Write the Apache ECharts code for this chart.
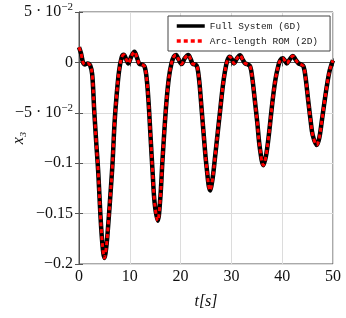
<!DOCTYPE html>
<html>
<head>
<meta charset="utf-8">
<script src="https://cdn.jsdelivr.net/npm/echarts@6/dist/echarts.min.js"></script>
<style>
  html, body { margin: 0; padding: 0; background: #fff; }
  #chart { width: 346px; height: 318px; }
</style>
</head>
<body>
<div id="chart"></div>
<script>
// time samples [s] and x3 values
var tData = [0, 0.4, 0.8, 1.2, 1.7, 2.2, 2.6, 3.0, 3.4, 3.8, 4.2, 4.6, 5.0, 5.4, 5.8, 6.2, 6.6, 7.0, 7.4, 7.9,
  8.4, 8.8, 9.3, 9.7, 10.3, 10.9, 11.4, 11.9, 12.4, 12.9, 13.3, 13.7, 14.1, 14.5, 14.9, 15.5, 16.0, 16.4, 16.8, 17.2,
  17.7, 18.2, 18.7, 19.1, 19.6, 20.2, 20.8, 21.5, 22.0, 22.4, 22.9, 23.3, 23.7, 24.1, 24.6, 25.1, 25.8, 26.3, 26.8, 27.3,
  27.8, 28.3, 28.7, 29.2, 29.7, 30.1, 30.5, 31.1, 31.7, 32.2, 32.7, 33.2, 33.7, 34.1, 34.6, 35.1, 35.6, 36.3, 36.8, 37.3,
  37.8, 38.2, 38.7, 39.2, 39.6, 40.1, 40.5, 40.9, 41.5, 42.1, 42.6, 43.2, 43.7, 44.2, 44.6, 45.1, 45.6, 46.0, 46.8, 47.3,
  47.8, 48.3, 48.8, 49.3, 49.7, 50.0];
var fullSystem = [0.015, 0.009, 0.0, -0.002, -0.001, -0.003, -0.012, -0.048, -0.080, -0.110, -0.150, -0.180, -0.194, -0.182, -0.158, -0.130, -0.100, -0.060, -0.033, -0.008,
  0.005, 0.0075, 0.003, -0.001, 0.006, 0.0105, 0.005, -0.0015, -0.002, -0.004, -0.015, -0.040, -0.075, -0.110, -0.140, -0.157, -0.135, -0.100, -0.068, -0.040,
  -0.015, -0.001, 0.006, 0.0074, 0.003, -0.0016, 0.004, 0.0073, 0.003, -0.0015, -0.002, -0.005, -0.020, -0.044, -0.075, -0.103, -0.127, -0.115, -0.093, -0.070,
  -0.047, -0.024, -0.010, 0.002, 0.0057, 0.003, -0.001, 0.004, 0.007, 0.003, -0.001, -0.002, -0.004, -0.015, -0.037, -0.060, -0.085, -0.102, -0.093, -0.075,
  -0.052, -0.034, -0.016, -0.004, 0.002, 0.004, 0.002, -0.001, 0.003, 0.0064, 0.003, -0.001, -0.002, -0.004, -0.015, -0.037, -0.058, -0.072, -0.082, -0.075,
  -0.058, -0.040, -0.023, -0.009, -0.002, 0.002];
// ROM overlays the full system
var arcLengthRom = fullSystem.slice();

var seriesNames = ['Full System (6D)', 'Arc-length ROM (2D)'];
var yTickValues = [0.05, 0, -0.05, -0.1, -0.15, -0.2];
var yTickBase = ['5 · 10', '0', '−5 · 10', '−0.1', '−0.15', '−0.2'];
var yTickExp = ['−2', '', '−2', '', '', ''];

var serif = 'Liberation Serif';

function pairs(xs, ys) {
  var out = [];
  for (var i = 0; i < xs.length; i++) out.push([xs[i], ys[i]]);
  return out;
}

var chart = echarts.init(document.getElementById('chart'));

var gridLine = { show: true, lineStyle: { color: '#dcdcdc', width: 1 } };
var tickIn = { show: true, inside: true, length: 4, lineStyle: { color: '#555' } };

option = {
  animation: false,
  backgroundColor: '#fff',
  grid: { left: 79, right: 13, top: 12, bottom: 54, outerBoundsMode: 'none', show: true, borderColor: '#555', borderWidth: 1 },
  legend: {
    orient: 'vertical',
    left: 168,
    top: 16,
    backgroundColor: '#fff',
    borderColor: '#444',
    borderWidth: 1,
    borderRadius: 0,
    padding: [5, 12, 5, 7],
    itemGap: 5,
    itemWidth: 28,
    itemHeight: 10,
    itemStyle: { opacity: 0 },
    lineStyle: { width: 3.5 },
    textStyle: { fontFamily: 'Liberation Mono', fontSize: 9.5, color: '#222' },
    data: seriesNames
  },
  xAxis: [{
    type: 'value', min: 0, max: 50, interval: 10,
    axisLine: { show: true, lineStyle: { color: '#555' } },
    axisTick: tickIn,
    splitLine: gridLine,
    axisLabel: { fontFamily: serif, fontSize: 16, color: '#111', margin: 5 },
    name: 't[s]',
    nameLocation: 'middle',
    nameGap: 30,
    nameTextStyle: { fontFamily: serif, fontSize: 16, fontStyle: 'italic', color: '#111' }
  }, {
    type: 'value', min: 0, max: 50, interval: 10, position: 'top',
    axisLine: { show: false }, axisTick: tickIn, axisLabel: { show: false }, splitLine: { show: false }
  }],
  yAxis: [{
    type: 'value', min: -0.2, max: 0.05, interval: 0.05,
    axisLine: { show: true, lineStyle: { color: '#555' } },
    axisTick: tickIn,
    splitLine: gridLine,
    axisLabel: {
      fontFamily: serif, fontSize: 16, color: '#111', margin: 6,
      formatter: function (v) {
        var idx = yTickValues.indexOf(Math.round(v * 100) / 100);
        if (idx < 0) return '';
        var s = '{n|' + yTickBase[idx] + '}';
        if (yTickExp[idx]) s += '{sup|' + yTickExp[idx] + '}';
        return s;
      },
      rich: {
        n: { fontFamily: serif, fontSize: 16, color: '#111' },
        sup: { fontFamily: serif, fontSize: 11, color: '#111', padding: [0, 0, 9, 0] }
      }
    },
    name: 'x₃',
    nameLocation: 'middle',
    nameGap: 52,
    nameMoveOverlap: false,
    nameRotate: 90,
    nameTextStyle: { fontFamily: serif, fontSize: 16, fontStyle: 'italic', color: '#111' }
  }, {
    type: 'value', min: -0.2, max: 0.05, interval: 0.05, position: 'right',
    axisLine: { show: false }, axisTick: tickIn, axisLabel: { show: false }, splitLine: { show: false }
  }],
  series: [{
    name: seriesNames[0],
    type: 'line',
    data: pairs(tData, fullSystem),
    smooth: 0.35,
    symbol: 'none',
    lineStyle: { color: '#000', width: 4.5 },
    itemStyle: { color: '#000' }
  }, {
    name: seriesNames[1],
    type: 'line',
    data: pairs(tData, arcLengthRom),
    smooth: 0.35,
    symbol: 'none',
    lineStyle: { color: '#f00', width: 3, type: [4, 3] },
    itemStyle: { color: '#f00' }
  }]
};

chart.setOption(option);
</script>
</body>
</html>
